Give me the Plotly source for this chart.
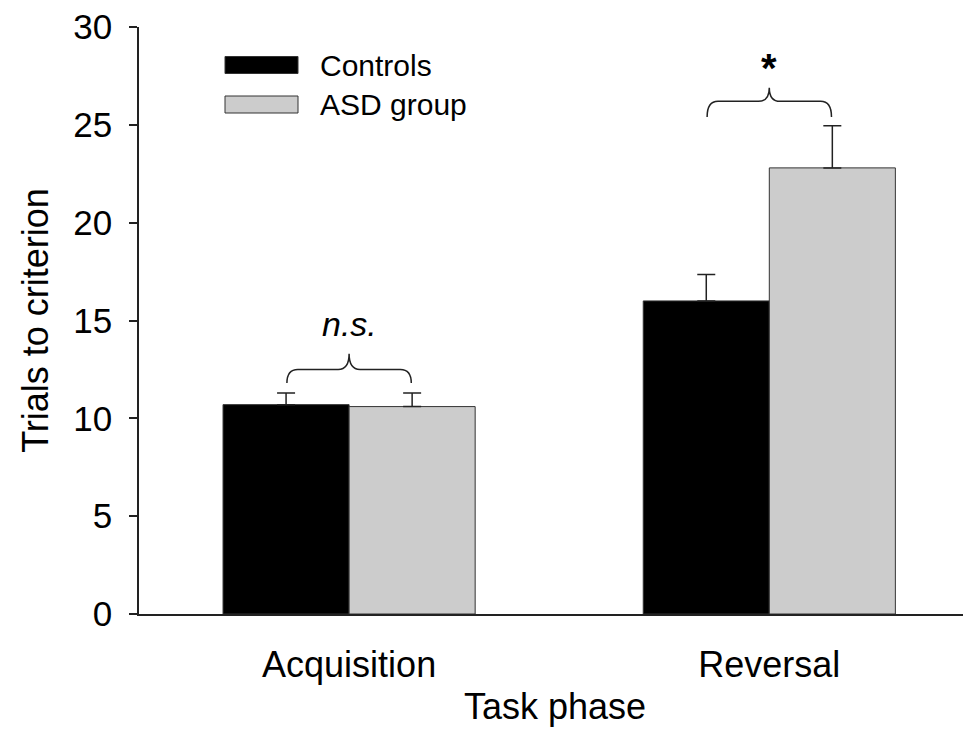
import plotly.graph_objects as go

categories = ["Acquisition", "Reversal"]
controls_mean = [10.7, 16.0]
asd_mean = [10.6, 22.8]
controls_err = [0.6, 1.35]
asd_err = [0.7, 2.15]
y_ticks = [0, 5, 10, 15, 20, 25, 30]
series_names = ["Controls", "ASD group"]
sig_labels = ["<i>n.s.</i>", "<b>*</b>"]

FONT = "Liberation Sans, Arial, sans-serif"
x_idx = list(range(len(categories)))

fig = go.Figure()
fig.add_trace(go.Bar(
    x=x_idx, y=controls_mean, name=series_names[0],
    marker=dict(color="#000000", line=dict(color="#333333", width=1)),
    error_y=dict(type="data", array=controls_err, arrayminus=[0] * len(controls_err),
                 symmetric=False, color="#222222", thickness=1.5, width=9),
    showlegend=False,
))
fig.add_trace(go.Bar(
    x=x_idx, y=asd_mean, name=series_names[1],
    marker=dict(color="#cccccc", line=dict(color="#333333", width=1)),
    error_y=dict(type="data", array=asd_err, arrayminus=[0] * len(asd_err),
                 symmetric=False, color="#222222", thickness=1.5, width=9),
    showlegend=False,
))

# braces above each group
brace_y = [(11.8, 12.5, 13.3), (25.4, 26.2, 26.9)]
half = 0.148
r = 0.026
for i, (ye, ym, yp) in enumerate(brace_y):
    xc = x_idx[i]
    x0, x1 = xc - half, xc + half
    path = (f"M {x0},{ye} Q {x0},{ym} {x0 + r},{ym} L {xc - r},{ym} "
            f"Q {xc},{ym} {xc},{yp} Q {xc},{ym} {xc + r},{ym} "
            f"L {x1 - r},{ym} Q {x1},{ym} {x1},{ye}")
    fig.add_shape(type="path", path=path, xref="x", yref="y",
                  line=dict(color="#222222", width=1.5))

fig.add_annotation(x=x_idx[0], y=13.3, yshift=9, text=sig_labels[0], showarrow=False,
                   yanchor="bottom", font=dict(family=FONT, size=34, color="#000"))
fig.add_annotation(x=x_idx[1], y=26.9, yshift=-4, text=sig_labels[1], showarrow=False,
                   yanchor="bottom", font=dict(family=FONT, size=40, color="#000"))

# page has an 8px body margin; plot area spans page px x 139..971, y 27..614
W, H = 963, 741
ml, mr, mt, mb = 131, 0, 19, 135
PX0, PY0, PW, PH = 139, 27, 832, 587

def px_x(p):
    return (p - PX0) / PW

def px_y(p):
    return 1 - (p - PY0) / PH

legend_colors = ["#000000", "#cccccc"]
legend_rows = [65, 104.5]
for name, col, yc in zip(series_names, legend_colors, legend_rows):
    fig.add_shape(type="rect", xref="paper", yref="paper",
                  x0=px_x(225), x1=px_x(298), y0=px_y(yc + 8.5), y1=px_y(yc - 8.5),
                  fillcolor=col, line=dict(color="#333333", width=1))
    fig.add_annotation(xref="paper", yref="paper", x=px_x(318), y=px_y(yc),
                       text=name, showarrow=False, xanchor="left", yanchor="middle",
                       font=dict(family=FONT, size=30, color="#000"))

fig.update_layout(
    width=W, height=H,
    margin=dict(l=ml, r=mr, t=mt, b=mb, autoexpand=False),
    paper_bgcolor="white", plot_bgcolor="white",
    barmode="group", bargap=0.4, bargroupgap=0,
    font=dict(family=FONT, color="#000"),
    xaxis=dict(
        range=[-0.5, 1.48], tickvals=x_idx, ticktext=categories,
        showline=True, linecolor="#222222", linewidth=1.5,
        showgrid=False, zeroline=False, ticks="", automargin=False,
        tickfont=dict(family=FONT, size=36), ticklabelstandoff=18,
        title=dict(text="Task phase", font=dict(family=FONT, size=36), standoff=10),
    ),
    yaxis=dict(
        range=[0, 30], tickvals=y_ticks, automargin=False,
        ticklabeloverflow="allow",
        showline=True, linecolor="#222222", linewidth=1.5,
        showgrid=False, zeroline=False,
        ticks="outside", ticklen=8, tickwidth=1.5, tickcolor="#222222",
        tickfont=dict(family=FONT, size=35), ticklabelstandoff=10,
        title=dict(text="Trials to criterion", font=dict(family=FONT, size=36), standoff=14),
    ),
)

fig.write_html("out.html")
